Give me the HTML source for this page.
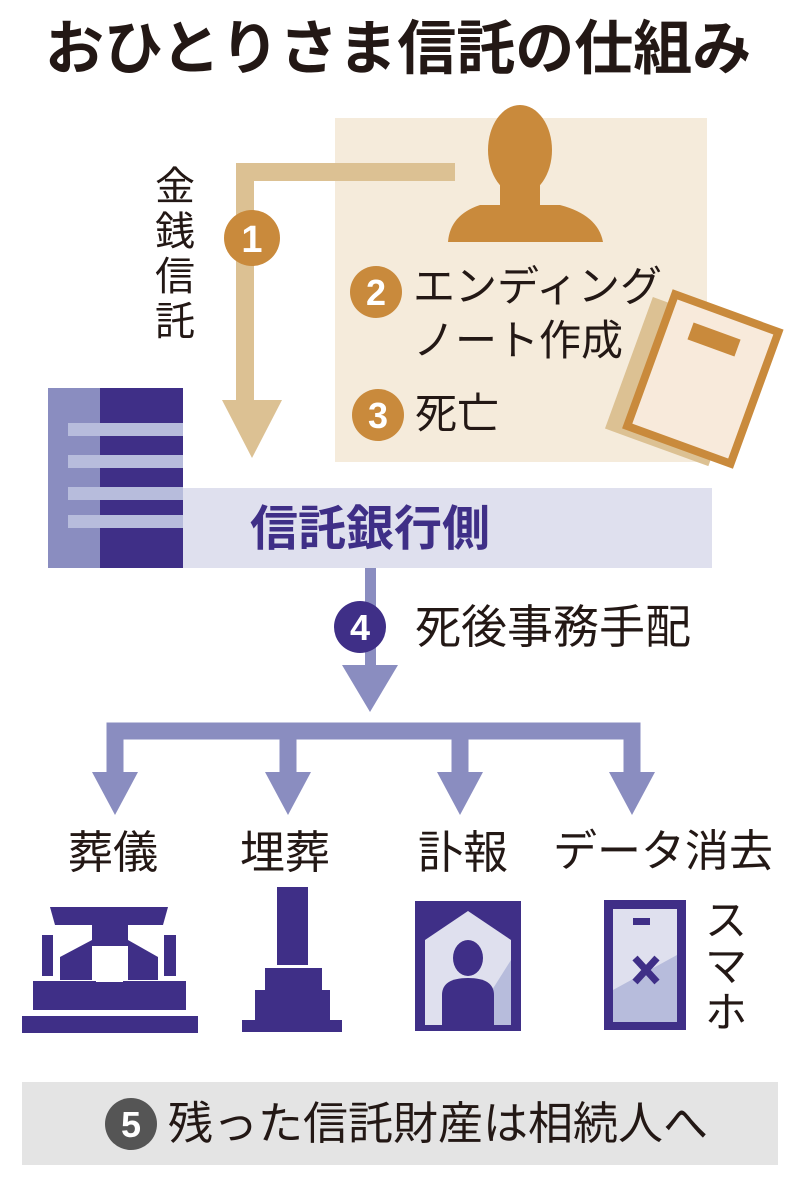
<!DOCTYPE html>
<html><head><meta charset="utf-8"><style>
body{margin:0;width:800px;height:1186px;background:#fff;overflow:hidden;position:relative;font-family:"Liberation Sans","Noto Sans CJK JP",sans-serif;color:#231815}
.a{position:absolute;white-space:nowrap;line-height:1}
</style></head><body>
<svg width="800" height="1186" style="position:absolute;left:0;top:0">
<rect x="335" y="118" width="372" height="344" fill="#f5ebdb"/>
<ellipse cx="520" cy="150" rx="32" ry="45" fill="#c98a3c"/>
<rect x="500" y="175" width="40" height="35" fill="#c98a3c"/>
<path d="M448 242 Q450 215 480 205 L560 205 Q598 215 603 242 Z" fill="#c98a3c"/>
<path d="M455 172 H245 V410" fill="none" stroke="#dcc193" stroke-width="18"/>
<polygon points="222,400 282,400 252,458" fill="#dcc193"/>
<circle cx="252" cy="238" r="28" fill="#c98a3c"/>
<text x="252" y="252" font-size="38" font-weight="bold" fill="#fff" text-anchor="middle" font-family="Liberation Sans">1</text>
<circle cx="376" cy="292" r="26" fill="#c98a3c"/>
<text x="376" y="305" font-size="36" font-weight="bold" fill="#fff" text-anchor="middle" font-family="Liberation Sans">2</text>
<circle cx="378" cy="415" r="26" fill="#c98a3c"/>
<text x="378" y="428" font-size="36" font-weight="bold" fill="#fff" text-anchor="middle" font-family="Liberation Sans">3</text>
<g transform="rotate(20 690 385)">
<rect x="625" y="315" width="110" height="140" fill="#dcc193"/>
<rect x="645" y="305" width="110" height="140" fill="#f8eadb" stroke="#c98a3c" stroke-width="8"/>
<rect x="672" y="325" width="50" height="18" fill="#c98a3c"/>
</g>
<rect x="183" y="488" width="529" height="80" fill="#dfe0ee"/>
<rect x="48" y="388" width="52" height="180" fill="#8a8dc0"/>
<rect x="100" y="388" width="83" height="180" fill="#3f2f87"/>
<g fill="#b7bcdc"><rect x="68" y="423" width="115" height="13"/><rect x="68" y="455" width="115" height="13"/><rect x="68" y="487" width="115" height="13"/><rect x="68" y="515" width="115" height="13"/></g>
<rect x="365" y="568" width="11" height="105" fill="#8a8dc0"/>
<polygon points="342,665 398,665 370,712" fill="#8a8dc0"/>
<circle cx="360" cy="627" r="26" fill="#3f2f87"/>
<text x="360" y="640" font-size="36" font-weight="bold" fill="#fff" text-anchor="middle" font-family="Liberation Sans">4</text>
<path d="M115 780 V731 H632 V780 M288 731 V780 M460 731 V780" fill="none" stroke="#8a8dc0" stroke-width="17"/>
<g fill="#8a8dc0"><polygon points="92,772 138,772 115,815"/><polygon points="265,772 311,772 288,815"/><polygon points="437,772 483,772 460,815"/><polygon points="609,772 655,772 632,815"/></g>
<!-- funeral -->
<g fill="#3f2f87">
<polygon points="50,907 168,907 163,925 55,925"/>
<rect x="92" y="924" width="36" height="22"/>
<polygon points="60,980 60,957 92,940 92,980"/>
<polygon points="158,980 158,957 128,940 128,980"/>
<rect x="42" y="935" width="11" height="41"/><rect x="164" y="935" width="12" height="41"/>
<rect x="33" y="981" width="153" height="29"/>
<rect x="22" y="1016" width="176" height="17"/>
</g>
<rect x="96" y="948" width="27" height="34" fill="#fff"/>
<!-- tomb -->
<g fill="#3f2f87"><rect x="277" y="887" width="31" height="78"/><rect x="265" y="968" width="57" height="22"/><rect x="255" y="990" width="75" height="30"/><rect x="242" y="1020" width="100" height="12"/></g>
<!-- obituary -->
<rect x="415" y="901" width="106" height="130" fill="#3f2f87"/>
<polygon points="425,940 468,911 511,940 511,1025 425,1025" fill="#dfe0ee"/>
<polygon points="511,960 511,1025 470,1025" fill="#b7bcdc"/>
<ellipse cx="468" cy="958" rx="15" ry="18" fill="#3f2f87"/>
<path d="M442 1025 V995 Q442 978 468 978 Q494 978 494 995 V1025 Z" fill="#3f2f87"/>
<!-- phone -->
<rect x="604" y="900" width="82" height="130" fill="#3f2f87"/>
<rect x="613" y="909" width="64" height="113" fill="#dfe0ee"/>
<polygon points="613,990 677,955 677,1022 613,1022" fill="#b7bcdc"/>
<rect x="633" y="918" width="17" height="7" fill="#3f2f87"/>
<path d="M635 958 L657 982 M657 958 L635 982" stroke="#3f2f87" stroke-width="7"/>
<rect x="22" y="1082" width="756" height="83" fill="#e4e4e4"/>
<circle cx="131" cy="1124" r="26" fill="#555"/>
<text x="131" y="1137" font-size="36" font-weight="bold" fill="#fff" text-anchor="middle" font-family="Liberation Sans">5</text>
</svg>
<div class="a" style="left:45px;top:20px;font-size:59px;font-weight:bold">おひとりさま信託の仕組み</div>
<div class="a" style="left:155px;top:165px;font-size:40px;line-height:45px;width:42px;white-space:normal">金銭信託</div>
<div class="a" style="left:413px;top:266px;font-size:42px">エンディング</div>
<div class="a" style="left:413px;top:320px;font-size:42px">ノート作成</div>
<div class="a" style="left:415px;top:393px;font-size:42px">死亡</div>
<div class="a" style="left:250px;top:506px;font-size:48px;font-weight:bold;color:#3f2f87">信託銀行側</div>
<div class="a" style="left:415px;top:604px;font-size:46px">死後事務手配</div>
<div class="a" style="left:68px;top:830px;font-size:45px">葬儀</div>
<div class="a" style="left:240px;top:830px;font-size:45px">埋葬</div>
<div class="a" style="left:418px;top:830px;font-size:45px">訃報</div>
<div class="a" style="left:553px;top:830px;font-size:44px">データ消去</div>
<div class="a" style="left:705px;top:898px;font-size:42px;line-height:46px;width:44px;white-space:normal">スマホ</div>
<div class="a" style="left:168px;top:1101px;font-size:45px">残った信託財産は相続人へ</div>
</body></html>
